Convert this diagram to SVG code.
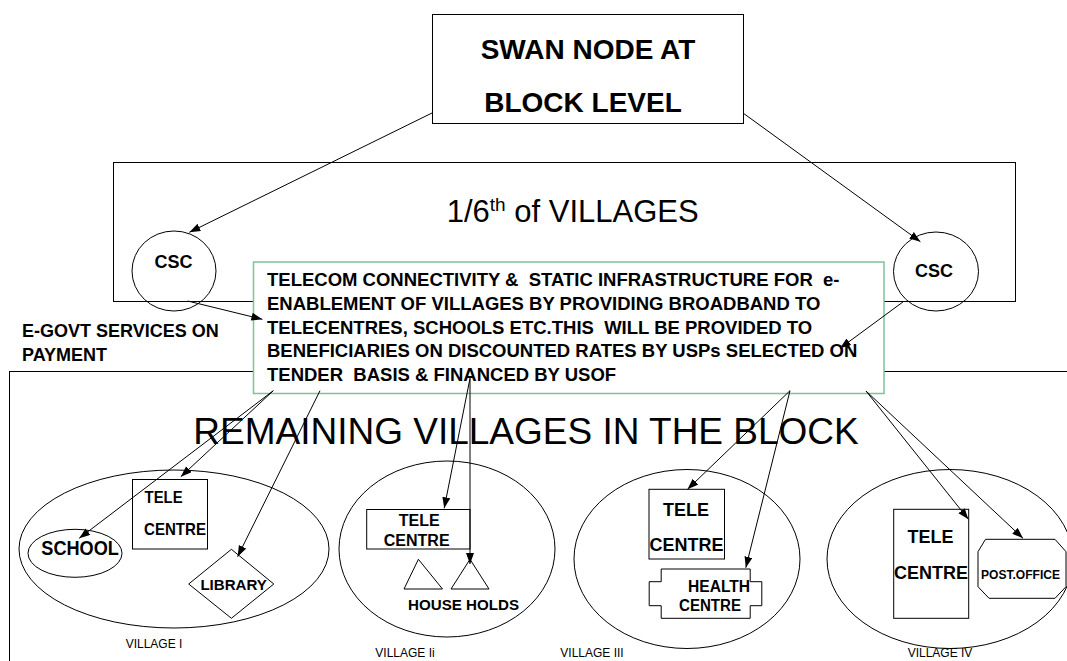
<svg xmlns="http://www.w3.org/2000/svg" width="1067" height="661" viewBox="0 0 1067 661">
<style>
.s{fill:none;stroke:#000;stroke-width:1}
.w{fill:#fff;stroke:#000;stroke-width:1}
.t{font-family:"Liberation Sans",Arial,sans-serif;fill:#000}
.b{font-family:"Liberation Sans",Arial,sans-serif;font-weight:bold;fill:#000}
.c{stroke:#000;stroke-width:1;fill:none;marker-end:url(#ah)}
.pre{white-space:pre}
</style>
<defs>
<marker id="ah" markerUnits="userSpaceOnUse" markerWidth="12" markerHeight="10" refX="11" refY="4" orient="auto">
<path d="M0,0 L11,4 L0,8 z" fill="#000"/>
</marker>
</defs>
<rect width="1067" height="661" fill="#fff"/>

<g id="swan">
<rect class="w" x="432.5" y="14.5" width="311" height="109"/>
<text class="b" x="588" y="59.3" font-size="28" text-anchor="middle">SWAN NODE AT</text>
<text class="b" x="583" y="111.7" font-size="28" text-anchor="middle">BLOCK LEVEL</text>
</g>

<g id="sixth">
<rect class="s" x="113.5" y="162.5" width="902" height="139"/>
<text class="t" x="446.7" y="221.7" font-size="31">1/6<tspan font-size="19" dy="-11">th</tspan><tspan dy="11"> of VILLAGES</tspan></text>
</g>

<g id="remaining">
<rect class="s" x="9.5" y="371.5" width="1100" height="400"/>
<text class="t" x="526" y="444" font-size="37" text-anchor="middle">REMAINING VILLAGES IN THE BLOCK</text>
</g>

<g id="csc-left">
<ellipse class="s" cx="174" cy="271" rx="42" ry="40"/>
<text class="b" x="173.4" y="268.3" font-size="18" text-anchor="middle">CSC</text>
</g>

<g id="csc-right">
<ellipse class="s" cx="936" cy="271.5" rx="42.5" ry="39.5"/>
<text class="b" x="934" y="277.3" font-size="18" text-anchor="middle">CSC</text>
</g>

<g id="egov">
<text class="b" x="22" y="337.3" font-size="18">E-GOVT SERVICES ON</text>
<text class="b" x="22" y="360.7" font-size="18">PAYMENT</text>
</g>

<g id="telecom">
<rect x="253.5" y="262" width="630.5" height="131.5" fill="#fff" stroke="#7fc29b" stroke-width="1.5"/>
<text class="b pre" xml:space="preserve" x="267" y="285.7" font-size="18.5">TELECOM CONNECTIVITY &amp;  STATIC INFRASTRUCTURE FOR  e-</text>
<text class="b pre" xml:space="preserve" x="267" y="309.6" font-size="18.5">ENABLEMENT OF VILLAGES BY PROVIDING BROADBAND TO</text>
<text class="b pre" xml:space="preserve" x="267" y="333.5" font-size="18.5">TELECENTRES, SCHOOLS ETC.THIS  WILL BE PROVIDED TO</text>
<text class="b pre" xml:space="preserve" x="267" y="357.4" font-size="18.5">BENEFICIARIES ON DISCOUNTED RATES BY USPs SELECTED ON</text>
<text class="b pre" xml:space="preserve" x="267" y="381.3" font-size="18.5">TENDER  BASIS &amp; FINANCED BY USOF</text>
</g>

<g id="village1">
<ellipse class="s" cx="174" cy="549" rx="155" ry="79"/>
<rect class="w" x="132.5" y="479.5" width="75" height="69.5"/>
<text class="b" x="144.6" y="503.3" font-size="17" textLength="38" lengthAdjust="spacingAndGlyphs">TELE</text>
<text class="b" x="144" y="535" font-size="17" textLength="62" lengthAdjust="spacingAndGlyphs">CENTRE</text>
<ellipse class="w" cx="75" cy="553.3" rx="47" ry="24"/>
<text class="b" x="41.3" y="555" font-size="20" textLength="77.5" lengthAdjust="spacingAndGlyphs">SCHOOL</text>
<polygon class="w" points="231.4,549.3 273.8,584 231.4,618.3 188.7,584"/>
<text class="b" x="200.4" y="590" font-size="15" textLength="66.5" lengthAdjust="spacingAndGlyphs">LIBRARY</text>
<text class="t" x="154" y="648" font-size="12" text-anchor="middle">VILLAGE I</text>
</g>

<g id="village2">
<ellipse class="s" cx="447" cy="549" rx="108" ry="88"/>
<rect class="w" x="366.7" y="509.5" width="103.3" height="39.5"/>
<text class="b" x="419.2" y="526" font-size="16" text-anchor="middle">TELE</text>
<text class="b" x="416.7" y="546" font-size="16" text-anchor="middle">CENTRE</text>
<polygon class="w" points="418.4,559.3 442.5,589 404,589"/>
<polygon class="w" points="470,559.3 489,589 451,589"/>
<text class="b" x="408" y="610" font-size="15" textLength="111" lengthAdjust="spacingAndGlyphs">HOUSE HOLDS</text>
<text class="t" x="405" y="656.7" font-size="12" text-anchor="middle">VILLAGE Ii</text>
</g>

<g id="village3">
<ellipse class="s" cx="687" cy="559" rx="113" ry="89.5"/>
<rect class="w" x="649" y="489.3" width="75.5" height="69.7"/>
<text class="b" x="686" y="515.7" font-size="18" text-anchor="middle">TELE</text>
<text class="b" x="686.5" y="551" font-size="18" text-anchor="middle">CENTRE</text>
<polygon class="w" points="661.2,569 750.2,569 750.2,581.7 761.8,581.7 761.8,605.7 750.2,605.7 750.2,618.3 661.2,618.3 661.2,605.7 649.2,605.7 649.2,581.7 661.2,581.7"/>
<text class="b" x="688" y="591.7" font-size="16" textLength="62" lengthAdjust="spacingAndGlyphs">HEALTH</text>
<text class="b" x="679" y="611" font-size="16" textLength="62" lengthAdjust="spacingAndGlyphs">CENTRE</text>
<text class="t" x="592" y="656.7" font-size="12" text-anchor="middle">VILLAGE III</text>
</g>

<g id="village4">
<ellipse class="s" cx="950" cy="559" rx="123" ry="89.5"/>
<rect class="w" x="893.7" y="509.3" width="75" height="109"/>
<text class="b" x="930.6" y="543.3" font-size="18" text-anchor="middle">TELE</text>
<text class="b" x="931" y="579.3" font-size="18" text-anchor="middle">CENTRE</text>
<polygon class="w" points="985.5,539.3 1055,539.3 1066,551.7 1066,586.7 1055,598.3 989,598.3 978,586.7 978,551.7"/>
<text class="b" x="981" y="579.3" font-size="13" textLength="79" lengthAdjust="spacingAndGlyphs">POST.OFFICE</text>
<text class="t" x="940" y="656.7" font-size="12" text-anchor="middle">VILLAGE IV</text>
</g>

<g id="connectors">
<line class="c" x1="432" y1="113" x2="189.4" y2="232.3"/>
<line class="c" x1="743" y1="113" x2="920.4" y2="241.7"/>
<line class="c" x1="187.7" y1="301" x2="262.4" y2="319.3"/>
<line class="c" x1="903.3" y1="301.7" x2="840" y2="348.3"/>
<line class="c" x1="273.3" y1="390.7" x2="180.8" y2="476.7"/>
<line class="c" x1="273.3" y1="390.7" x2="79.2" y2="538.3"/>
<line class="c" x1="320" y1="390.7" x2="237.6" y2="556.7"/>
<line class="c" x1="470" y1="378.3" x2="444.2" y2="508.3"/>
<line class="c" x1="470" y1="378.3" x2="470" y2="564"/>
<line class="c" x1="790" y1="390.7" x2="687.5" y2="489.3"/>
<line class="c" x1="790" y1="390.7" x2="745.8" y2="567.7"/>
<line class="c" x1="866" y1="391" x2="968.4" y2="519.3"/>
<line class="c" x1="866" y1="391" x2="1023" y2="538.3"/>
</g>
</svg>
